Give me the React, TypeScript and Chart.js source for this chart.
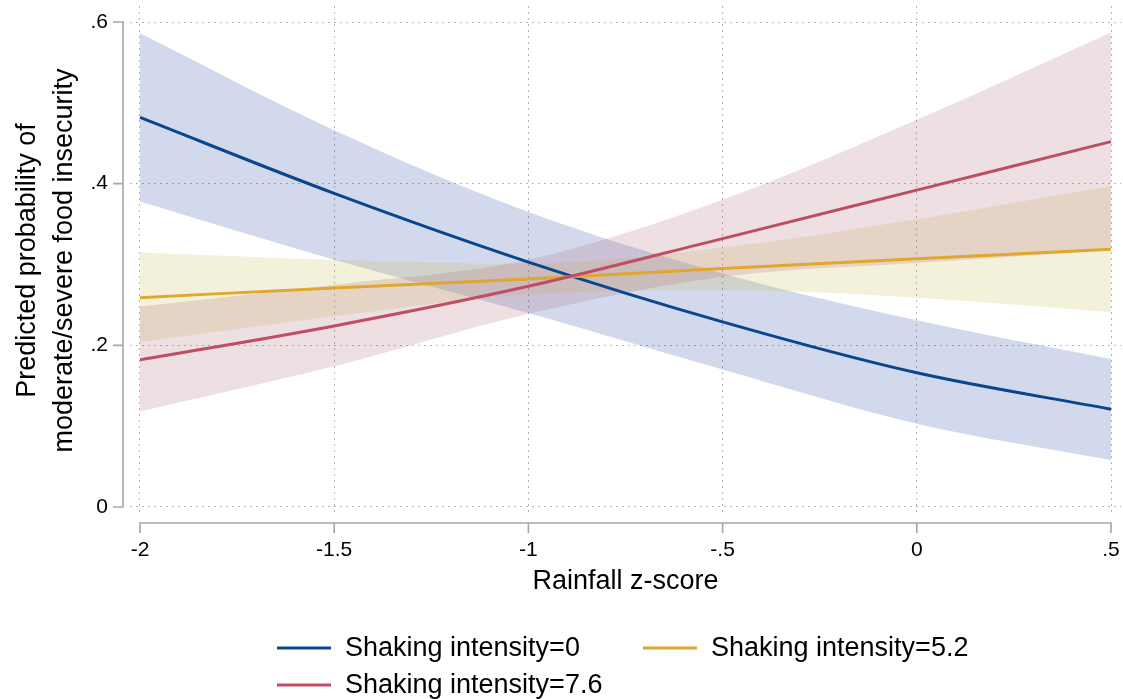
import React, { useEffect, useRef } from "react";
import { Chart, registerables } from "chart.js";

Chart.register(...registerables);

// ---- Data ----
const rainfall = [-2, -1.5, -1, -0.5, 0, 0.5];

const shake0 = [0.482, 0.388, 0.303, 0.229, 0.166, 0.121];
const shake0Lo = [0.378, 0.306, 0.240, 0.170, 0.103, 0.058];
const shake0Hi = [0.586, 0.466, 0.365, 0.289, 0.231, 0.183];

const shake52 = [0.259, 0.271, 0.282, 0.295, 0.307, 0.319];
const shake52Lo = [0.204, 0.236, 0.263, 0.268, 0.259, 0.241];
const shake52Hi = [0.315, 0.306, 0.301, 0.321, 0.356, 0.397];

const shake76 = [0.182, 0.224, 0.273, 0.332, 0.392, 0.452];
const shake76Lo = [0.118, 0.174, 0.239, 0.285, 0.302, 0.318];
const shake76Hi = [0.248, 0.275, 0.306, 0.380, 0.479, 0.587];

const seriesLabels = ["Shaking intensity=0", "Shaking intensity=5.2", "Shaking intensity=7.6"];

const xTicks = [-2, -1.5, -1, -0.5, 0, 0.5];
const xTickLabels = ["-2", "-1.5", "-1", "-.5", "0", ".5"];
const yTicks = [0, 0.2, 0.4, 0.6];
const yTickLabels = ["0", ".2", ".4", ".6"];

const xTitle = "Rainfall z-score";
const yTitle = ["Predicted probability of", "moderate/severe food insecurity"];

// ---- Styles ----
const BLUE = "#0a468c";
const YELLOW = "#e0a630";
const RED = "#c04d66";
const BLUE_BAND = "rgba(35,65,160,0.2)";
const YELLOW_BAND = "rgba(195,185,70,0.2)";
const RED_BAND = "rgba(170,95,115,0.2)";
const FONT = "'Liberation Sans', Arial, Helvetica, sans-serif";

const pts = (ys: number[]) => rainfall.map((x, i) => ({ x, y: ys[i] }));

const stataAxes = {
  id: "stataAxes",
  afterDraw(chart: any) {
    const { ctx, chartArea, scales } = chart;
    const xs = scales.x;
    const ys = scales.y;
    ctx.save();
    ctx.strokeStyle = "#a6a6a6";
    ctx.lineWidth = 1.6;
    ctx.lineCap = "butt";
    // x axis
    const ay = chartArea.bottom + 8;
    const x0 = xs.getPixelForValue(xTicks[0]);
    const x1 = xs.getPixelForValue(xTicks[xTicks.length - 1]);
    ctx.beginPath();
    ctx.moveTo(x0 - 0.8, ay);
    ctx.lineTo(x1 + 0.8, ay);
    for (const v of xTicks) {
      const px = xs.getPixelForValue(v);
      ctx.moveTo(px, ay);
      ctx.lineTo(px, ay + 10);
    }
    ctx.stroke();
    // y axis
    const ax = chartArea.left - 7;
    const y0 = ys.getPixelForValue(yTicks[0]);
    const y1 = ys.getPixelForValue(yTicks[yTicks.length - 1]);
    ctx.beginPath();
    ctx.moveTo(ax, y0 + 0.8);
    ctx.lineTo(ax, y1 - 0.8);
    for (const v of yTicks) {
      const py = ys.getPixelForValue(v);
      ctx.moveTo(ax, py);
      ctx.lineTo(ax - 10, py);
    }
    ctx.stroke();

    // legend
    const items = [
      { color: BLUE, label: seriesLabels[0], lx: 277, ly: 648 },
      { color: YELLOW, label: seriesLabels[1], lx: 643, ly: 648 },
      { color: RED, label: seriesLabels[2], lx: 277, ly: 685 },
    ];
    ctx.font = `27px ${FONT}`;
    ctx.fillStyle = "#000";
    ctx.textBaseline = "middle";
    ctx.textAlign = "left";
    for (const it of items) {
      ctx.strokeStyle = it.color;
      ctx.lineWidth = 3;
      ctx.beginPath();
      ctx.moveTo(it.lx, it.ly);
      ctx.lineTo(it.lx + 54, it.ly);
      ctx.stroke();
      ctx.fillText(it.label, it.lx + 68, it.ly + 1);
    }
    ctx.restore();
  },
};

export default function App() {
  const ref = useRef<HTMLCanvasElement | null>(null);

  useEffect(() => {
    document.body.style.margin = "0";
    const canvas = ref.current;
    if (!canvas) return;
    Chart.defaults.font.family = FONT;
    Chart.defaults.color = "#000";

    const line = (label: string, data: number[], color: string) => ({
      label,
      data: pts(data),
      borderColor: color,
      backgroundColor: color,
      borderWidth: 3,
      pointRadius: 0,
      fill: false,
      cubicInterpolationMode: "monotone" as const,
    });
    const band = (label: string, data: number[], color: string, fill: any) => ({
      label,
      data: pts(data),
      borderColor: "rgba(0,0,0,0)",
      backgroundColor: color,
      borderWidth: 0,
      pointRadius: 0,
      fill,
      cubicInterpolationMode: "monotone" as const,
    });

    const chart = new Chart(canvas, {
      type: "line",
      data: {
        datasets: [
          line(seriesLabels[2], shake76, RED),
          line(seriesLabels[1], shake52, YELLOW),
          line(seriesLabels[0], shake0, BLUE),
          band("hi76", shake76Hi, RED_BAND, "+1"),
          band("lo76", shake76Lo, RED_BAND, false),
          band("hi52", shake52Hi, YELLOW_BAND, "+1"),
          band("lo52", shake52Lo, YELLOW_BAND, false),
          band("hi0", shake0Hi, BLUE_BAND, "+1"),
          band("lo0", shake0Lo, BLUE_BAND, false),
        ],
      },
      options: {
        animation: false,
        responsive: false,
        events: [],
        layout: { padding: { top: 6, right: 2, bottom: 101, left: 0 } },
        plugins: {
          legend: { display: false },
          tooltip: { enabled: false },
          filler: { drawTime: "beforeDatasetsDraw" },
        } as any,
        scales: {
          x: {
            type: "linear",
            min: -2.0257,
            max: 0.5257,
            afterBuildTicks: (s: any) => {
              s.ticks = xTicks.map((v) => ({ value: v }));
            },
            afterFit: (s: any) => {
              s.height = 83;
              s.paddingLeft = 0;
              s.paddingRight = 0;
            },
            border: { display: false, dash: [2, 4] },
            grid: {
              color: "#b4b4b4",
              lineWidth: 1,
              drawTicks: false,
            },
            ticks: {
              autoSkip: false,
              maxRotation: 0,
              padding: 23,
              font: { size: 21 },
              color: "#000",
              callback: (_v: any, i: number) => xTickLabels[i],
            },
            title: {
              display: true,
              text: xTitle,
              font: { size: 27, lineHeight: 1.2 },
              color: "#000",
              padding: { top: 0, bottom: 0 },
            },
          },
          y: {
            type: "linear",
            min: -0.0099,
            max: 0.6198,
            afterBuildTicks: (s: any) => {
              s.ticks = yTicks.map((v) => ({ value: v }));
            },
            afterFit: (s: any) => {
              s.width = 130;
              s.paddingTop = 0;
              s.paddingBottom = 0;
            },
            border: { display: false, dash: [2, 4] },
            grid: {
              color: "#b4b4b4",
              lineWidth: 1,
              drawTicks: false,
            },
            ticks: {
              padding: 22,
              font: { size: 21 },
              color: "#000",
              callback: (_v: any, i: number) => yTickLabels[i],
            },
            title: {
              display: true,
              text: yTitle,
              font: { size: 27, lineHeight: 1.37 },
              color: "#000",
              padding: { top: 9.5, bottom: 0 },
            },
          },
        },
      },
      plugins: [stataAxes],
    });

    return () => chart.destroy();
  }, []);

  return (
    <div style={{ position: "fixed", left: 0, top: 0, width: 1123, height: 699, background: "#fff" }}>
      <canvas ref={ref} width={1123} height={699} style={{ width: 1123, height: 699, display: "block" }} />
    </div>
  );
}
